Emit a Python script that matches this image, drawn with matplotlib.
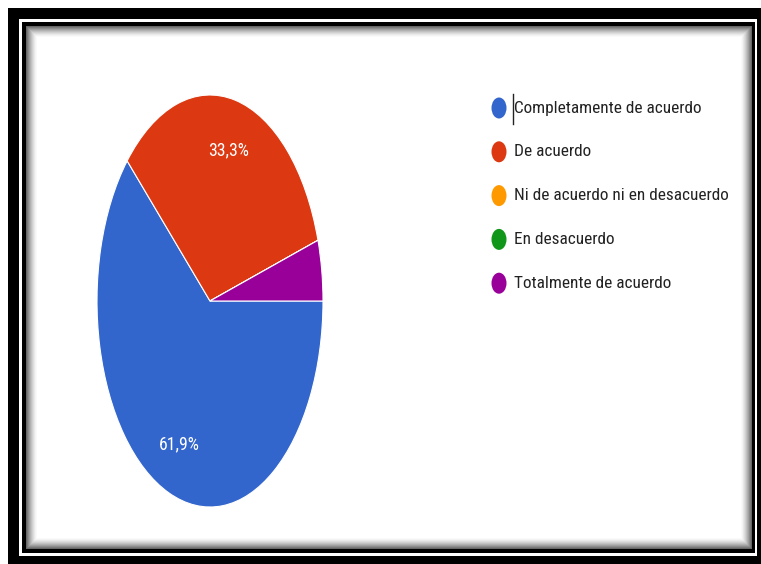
import numpy as np
import matplotlib
matplotlib.use("Agg")
import matplotlib.pyplot as plt
from matplotlib import font_manager
from matplotlib.patches import Ellipse

# survey answers and their share of responses
categorias = ["Completamente de acuerdo", "De acuerdo",
              "Ni de acuerdo ni en desacuerdo", "En desacuerdo",
              "Totalmente de acuerdo"]
respuestas = [13, 7, 0, 0, 1]
colores = ["#3366cc", "#dc3912", "#ff9900", "#109618", "#990099"]

# prefer a condensed face when one is available
nombres = {f.name for f in font_manager.fontManager.ttflist}
angostas = ["Liberation Sans Narrow", "Roboto Condensed", "Open Sans Condensed"]
fuente = next((n for n in angostas if n in nombres), "Liberation Sans")
escala = 1.0 if fuente != "Liberation Sans" else 0.85
plt.rcParams["font.family"] = [fuente, "DejaVu Sans"]

W, H = 761, 564
fig = plt.figure(figsize=(W / 100, H / 100), dpi=100)

# double black frame with a soft inner shadow
marco = np.ones((H, W, 3))
marco[8:, 8:] = 0.0
marco[19:556, 19:757] = 1.0
marco[22:553, 22:755] = 0.0
y0, y1, x0, x1 = 26, 549, 26, 752
yy, xx = np.mgrid[y0:y1, x0:x1]
d = np.minimum.reduce([yy - y0, y1 - 1 - yy, xx - x0, x1 - 1 - xx]).astype(float)
tono = 1 - 0.6 * np.clip(1 - d / 11.0, 0, 1) ** 1.5
marco[y0:y1, x0:x1] = tono[..., None]

fondo = fig.add_axes([0, 0, 1, 1])
fondo.imshow(marco, extent=(0, W, H, 0), interpolation="nearest")
fondo.set_xlim(0, W)
fondo.set_ylim(H, 0)
fondo.axis("off")


def etiqueta(pct):
    if pct < 5:
        return ""
    return f"{pct:.1f}".replace(".", ",") + "%"


ax = fig.add_axes([97 / W, (H - 507) / H, 226 / W, 412 / H])
ax.patch.set_alpha(0)
ax.pie(respuestas, colors=colores, startangle=0, counterclock=False,
       autopct=etiqueta, pctdistance=0.75, radius=1,
       wedgeprops=dict(edgecolor="white", linewidth=0.8),
       textprops=dict(color="white", fontsize=12.8 * escala))
ax.set_aspect("auto")
ax.set_xlim(-1, 1)
ax.set_ylim(-1, 1)
ax.axis("off")

# legend drawn in pixel units on the background axes
for i, (nombre, color) in enumerate(zip(categorias, colores)):
    y = 108 + i * 43.8
    fondo.add_patch(Ellipse((499, y), 15, 21, color=color, lw=0))
    fondo.text(514, y, nombre, fontsize=12.4 * escala, color="#222222",
               va="center", ha="left")
fondo.plot([513, 513], [94, 124], color="#222222", lw=1)

fig.savefig("out.png", dpi=100)
